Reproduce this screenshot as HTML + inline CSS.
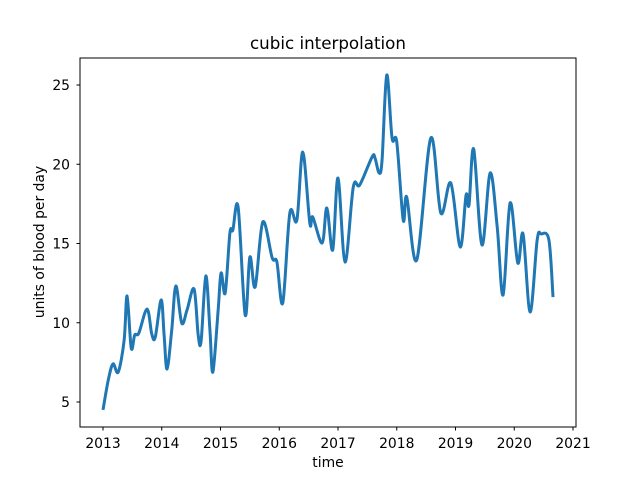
<!DOCTYPE html>
<html><head><meta charset="utf-8"><style>
body{margin:0;background:#fff}
svg text{font-family:"DejaVu Sans","Liberation Sans",sans-serif;fill:#000}
</style></head><body>
<svg id="chart" width="640" height="480" xmlns="http://www.w3.org/2000/svg">
<rect width="640" height="480" fill="#fff"/>
<g id="plot"></g>
<text x="328" y="49" font-size="16.7" text-anchor="middle">cubic interpolation</text>
<text x="328" y="467" font-size="13.9" text-anchor="middle">time</text>
<text x="0" y="0" font-size="13.9" text-anchor="middle" transform="translate(44,242) rotate(-90)">units of blood per day</text>
</svg>
<script>
const years=[2013.00,2013.09,2013.17,2013.26,2013.36,2013.41,2013.48,2013.54,2013.61,2013.75,2013.83,2013.89,2013.99,2014.04,2014.09,2014.17,2014.24,2014.34,2014.43,2014.55,2014.62,2014.67,2014.75,2014.82,2014.87,2014.96,2015.01,2015.08,2015.16,2015.21,2015.30,2015.42,2015.50,2015.59,2015.72,2015.88,2015.96,2016.06,2016.18,2016.30,2016.40,2016.52,2016.57,2016.73,2016.81,2016.91,2017.00,2017.12,2017.26,2017.37,2017.58,2017.63,2017.70,2017.75,2017.83,2017.92,2018.00,2018.11,2018.17,2018.34,2018.58,2018.75,2018.92,2019.08,2019.18,2019.23,2019.31,2019.45,2019.59,2019.71,2019.81,2019.93,2020.06,2020.15,2020.27,2020.39,2020.46,2020.59,2020.66];
const values=[4.50,6.39,7.40,6.89,8.91,11.69,8.41,9.23,9.35,10.87,9.29,9.10,11.44,9.23,7.08,9.54,12.32,9.98,10.80,12.13,9.23,8.85,12.95,9.54,6.89,10.80,13.14,11.88,15.66,15.85,17.30,10.49,14.15,12.26,16.36,14.09,13.83,11.25,16.92,16.48,20.77,16.29,16.67,15.03,17.24,14.59,19.13,13.83,18.56,18.69,20.46,20.39,19.45,20.27,25.63,21.66,21.40,16.48,17.93,13.96,21.66,16.92,18.82,14.78,18.06,17.43,20.96,14.91,19.45,16.04,11.75,17.56,13.77,15.60,10.68,15.22,15.60,15.22,11.62];
const xTicks=[2013,2014,2015,2016,2017,2018,2019,2020,2021];
const yTicks=[5,10,15,20,25];
const L=80,R=576,T=58,B=427;
const xS=v=>103+(v-2013)*58.75;
const yS=v=>402-(v-5)*15.85;
const NS="http://www.w3.org/2000/svg";
const g=document.getElementById('plot');
function mk(t,a){const e=document.createElementNS(NS,t);for(const k in a)e.setAttribute(k,a[k]);g.appendChild(e);return e;}
const pts=years.map((y,i)=>[xS(y),yS(values[i])]);
let d='M'+pts[0][0]+','+pts[0][1];
for(let i=0;i<pts.length-1;i++){const p0=pts[i-1]||pts[i],p1=pts[i],p2=pts[i+1],p3=pts[i+2]||p2;
d+=` C${p1[0]+(p2[0]-p0[0])/6},${p1[1]+(p2[1]-p0[1])/6} ${p2[0]-(p3[0]-p1[0])/6},${p2[1]-(p3[1]-p1[1])/6} ${p2[0]},${p2[1]}`;}
const line=mk('path',{d:d,fill:'none',stroke:'#1f77b4','stroke-width':3,'stroke-linejoin':'round'});


const frame=mk('rect',{x:L,y:T,width:R-L,height:B-T,fill:'none',stroke:'#000','stroke-width':1});


xTicks.forEach(v=>{const x=xS(v);
const tk=mk('line',{x1:x,x2:x,y1:B,y2:B+3.5,stroke:'#000'});


const t=mk('text',{x:x,y:B+21,'font-size':13.9,'text-anchor':'middle'});t.textContent=v;

});
yTicks.forEach(v=>{const y=yS(v);
const tk=mk('line',{x1:L-3.5,x2:L,y1:y,y2:y,stroke:'#000'});


const t=mk('text',{x:L-10,y:y+5,'font-size':13.9,'text-anchor':'end'});t.textContent=v;

});
</script>
</body></html>
